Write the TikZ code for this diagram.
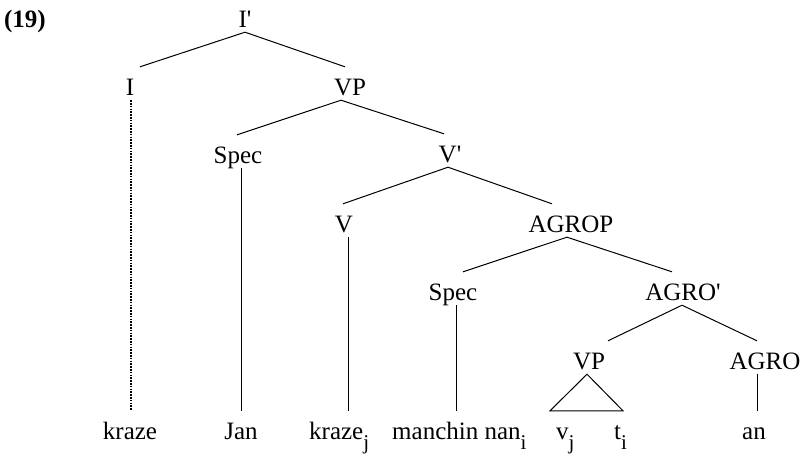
\documentclass[tikz,border=0pt]{standalone}
\usepackage{fontspec}
\setmainfont{Liberation Serif}
\newcommand\sbs[1]{\raisebox{-10pt}{\fontsize{21}{21}\selectfont #1}}
\newcommand\prm{\textquotesingle}
\begin{document}
\begin{tikzpicture}[x=1pt,y=-1pt, font=\fontsize{25}{30}\selectfont,
  lab/.style={anchor=base, inner xsep=0pt, inner ysep=5pt, text height=23pt, text depth=0pt},
  edge/.style={line width=1pt},
  dotedge/.style={line width=1.1pt, dash pattern=on 1.6pt off 1.2pt}]
\useasboundingbox (0,0) rectangle (808,456);
\node[lab, font=\fontsize{25}{30}\selectfont\bfseries] (num) at (25,27) {(19)};
\node[lab] (Ibar) at (245,27) {I\prm};
\node[lab] (I) at (130,95) {I};
\node[lab] (VP) at (350,95) {VP};
\node[lab] (Spec1) at (238,163) {Spec};
\node[lab] (Vbar) at (450,162) {V\prm};
\node[lab] (V) at (344,232) {V};
\node[lab] (AGROP) at (571,232) {AGROP};
\node[lab] (Spec2) at (453,300) {Spec};
\node[lab] (AGRObar) at (683,300) {AGRO\prm};
\node[lab] (VP2) at (589,369) {VP};
\node[lab] (AGRO) at (765,369) {AGRO};
\node[lab] (w1) at (130,439) {kraze};
\node[lab] (w2) at (241,439) {Jan};
\node[lab, anchor=base west] (w3) at (309,439) {kraze\sbs{j}};
\node[lab, anchor=base west] (w4) at (392,439) {manchin nan\sbs{i}};
\node[lab, anchor=base west] (w5) at (556,439) {v\sbs{j}};
\node[lab, anchor=base west] (w6) at (614,439) {t\sbs{i}};
\node[lab] (w7) at (754,439) {an};
\draw[edge] (Ibar.south) -- ([xshift=10pt]I.north);
\draw[edge] (Ibar.south) -- ([xshift=-5pt]VP.north);
\draw[dotedge] ([xshift=1pt]I.south) -- ([xshift=1pt]I.south |- w1.north);
\draw[edge] ([xshift=-9pt]VP.south) -- ([xshift=-1pt]Spec1.north);
\draw[edge] ([xshift=-9pt]VP.south) -- ([xshift=-6pt]Vbar.north);
\draw[edge] ([xshift=3pt]Spec1.south) -- ([xshift=3pt]Spec1.south |- w2.north);
\draw[edge] ([xshift=-2pt]Vbar.south) -- ([xshift=-1pt]V.north);
\draw[edge] ([xshift=-2pt]Vbar.south) -- ([xshift=-19pt]AGROP.north);
\draw[edge] ([xshift=4pt]V.south) -- ([xshift=4pt]V.south |- w3.north);
\draw[edge] ([xshift=-4pt]AGROP.south) -- ([xshift=10pt]Spec2.north);
\draw[edge] ([xshift=-4pt]AGROP.south) -- ([xshift=-11pt]AGRObar.north);
\draw[edge] ([xshift=3pt]Spec2.south) -- ([xshift=3pt]Spec2.south |- w4.north);
\draw[edge] ([xshift=-1pt]AGRObar.south) -- ([xshift=19pt]VP2.north);
\draw[edge] ([xshift=-1pt]AGRObar.south) -- ([xshift=-8pt]AGRO.north);
\draw[edge] ([xshift=-8pt]AGRO.south) -- ([xshift=-8pt]AGRO.south |- w7.north);
\draw[edge, line join=miter] ([xshift=-2pt]VP2.south) -- ([xshift=-39pt]VP2.south |- w5.north) -- ([xshift=34pt]VP2.south |- w6.north) -- cycle;
\end{tikzpicture}
\end{document}
